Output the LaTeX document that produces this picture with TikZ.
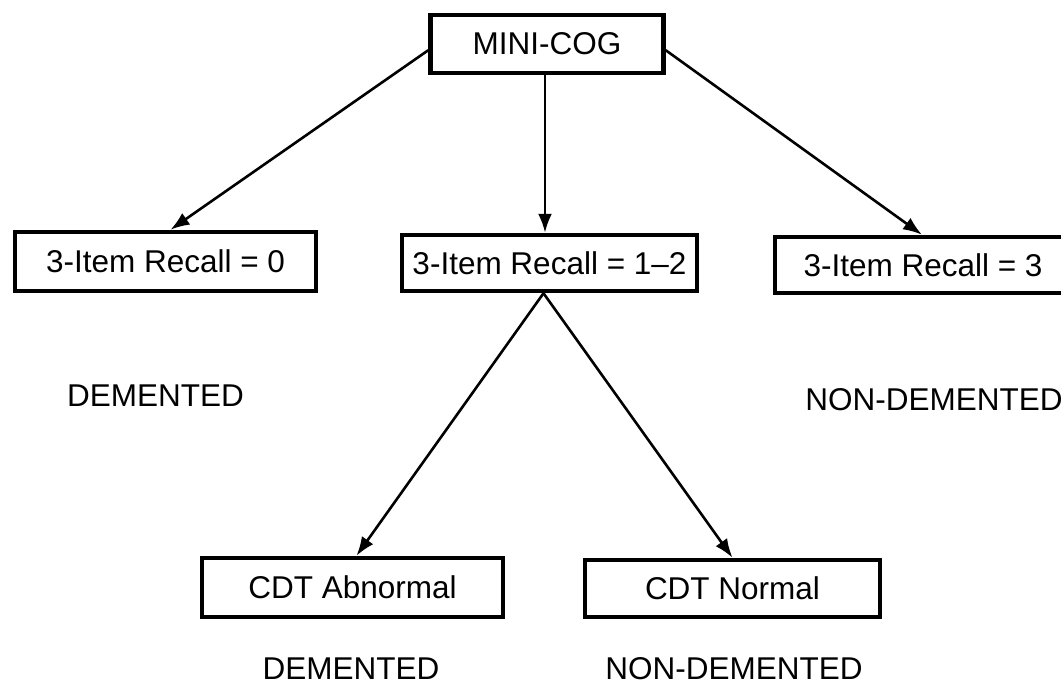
\documentclass[tikz,border=0pt]{standalone}
\usepackage{fontspec}
\setmainfont{Liberation Sans}
\usetikzlibrary{arrows.meta,calc}
\begin{document}
\begin{tikzpicture}[x=1pt,y=-1pt,
  box/.style={draw=black,line width=4.5pt,fill=white,inner sep=0pt,align=center,
    font=\fontsize{31.5}{37}\selectfont},
  lbl/.style={inner sep=0pt,font=\fontsize{31.5}{37}\selectfont},
  arr/.style={line width=2.6pt,-{Latex[length=19pt,width=14pt]}}]
\useasboundingbox (0,0) rectangle (1061,685);
\fill[white] (0,0) rectangle (1061,685);
\begin{scope}
\clip (0,0) rectangle (1061,685);
\node[box,minimum width=233pt,minimum height=58pt] (mini) at (547,44) {MINI-COG};
\node[box,minimum width=301pt,minimum height=59pt] (r0) at (165.5,261.5) {3-Item Recall = 0};
\node[box,minimum width=295pt,minimum height=56pt] (r12) at (549.5,263) {3-Item Recall = 1--2};
\node[box,minimum width=296pt,minimum height=56pt] (r3) at (923,265) {3-Item Recall = 3};
\node[box,minimum width=301pt,minimum height=59pt] (cdtA) at (352.5,587.5) {CDT Abnormal};
\node[box,minimum width=295pt,minimum height=57pt] (cdtN) at (732.5,588.5) {CDT Normal};
\node[lbl] (d1) at (155.5,396) {DEMENTED};
\node[lbl] (n1) at (934,400) {NON-DEMENTED};
\node[lbl] (d2) at (351,669) {DEMENTED};
\node[lbl] (n2) at (734,669) {NON-DEMENTED};
\coordinate (mL) at ($(mini.south west)!0.4!(mini.north west)$);
\coordinate (mR) at ($(mini.south east)!0.4!(mini.north east)$);
\coordinate (mS) at ($(mini.south)+(-2,0)$);
\coordinate (rS) at ($(r12.south)+(-6,0)$);
\draw[arr] (mL) -- ($(r0.north)+(5,0)$);
\draw[arr] (mR) -- ($(r3.north)+(-1,0)$);
\draw[arr] (mS) -- (mS |- r12.north);
\draw[arr] (rS) -- ($(cdtA.north)+(4,0)$);
\draw[arr] (rS) -- (cdtN.north);
\end{scope}
\end{tikzpicture}
\end{document}
